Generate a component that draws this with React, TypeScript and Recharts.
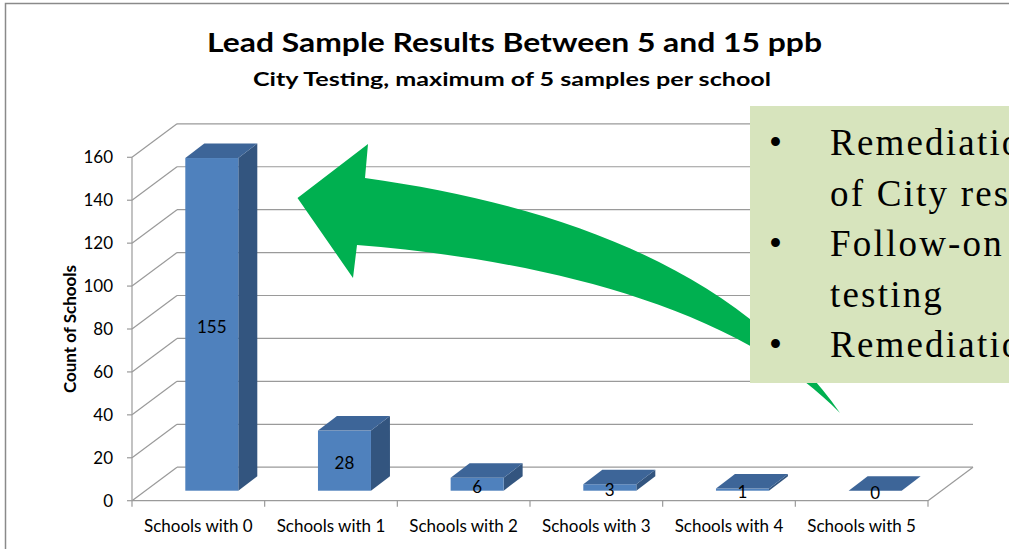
import React from 'react';
import { BarChart, Bar, XAxis, YAxis, CartesianGrid, LabelList } from 'recharts';

const categories = [
  'Schools with 0',
  'Schools with 1',
  'Schools with 2',
  'Schools with 3',
  'Schools with 4',
  'Schools with 5'
];
const counts = [155, 28, 6, 3, 1, 0];
const yTicks = [0, 20, 40, 60, 80, 100, 120, 140, 160];

const boxLines = [
  { bullet: true, text: 'Remediation' },
  { bullet: false, text: 'of City results' },
  { bullet: true, text: 'Follow-on' },
  { bullet: false, text: 'testing' },
  { bullet: true, text: 'Remediation' }
];

const W = 1009;
const H = 549;
const SANS = "Lato, 'Open Sans', sans-serif";
const GRID = '#9a9a9a';

// perspective offsets of the wall and of the bars
const DEPTH_X = 45;
const DEPTH_Y = -33.5;
const BAR_SHIFT_X = 13.5;
const BAR_SHIFT_Y = -10;
const BAR_DX = 19;
const BAR_DY = -14.5;

const FRONT = '#4f81bd';
const TOP = '#3d6598';
const SIDE = '#33557f';

const GridLine = (p: any) => {
  const { x1, x2, y1, index } = p;
  const bx = x1 + DEPTH_X;
  const by = y1 + DEPTH_Y;
  const isFloor = y1 > 490;
  return (
    <g key={'g' + index}>
      <line x1={x1} y1={y1} x2={bx} y2={by} stroke={GRID} strokeWidth={1.2} />
      <line x1={bx} y1={by} x2={x2 + DEPTH_X} y2={by} stroke={GRID} strokeWidth={1.2} />
      {isFloor && (
        <line x1={x2} y1={y1} x2={x2 + DEPTH_X} y2={by} stroke={GRID} strokeWidth={1.2} />
      )}
    </g>
  );
};

const Bar3D = (props: any) => {
  const { x, y, width, height } = props;
  const fx = x + BAR_SHIFT_X;
  const fy = y + BAR_SHIFT_Y;
  const h = Math.max(height, 0);
  const top = `${fx},${fy} ${fx + BAR_DX},${fy + BAR_DY} ${fx + width + BAR_DX},${fy + BAR_DY} ${fx + width},${fy}`;
  const side = `${fx + width},${fy} ${fx + width + BAR_DX},${fy + BAR_DY} ${fx + width + BAR_DX},${fy + h + BAR_DY} ${fx + width},${fy + h}`;
  return (
    <g>
      <polygon points={side} fill={SIDE} />
      <rect x={fx} y={fy} width={width} height={h} fill={FRONT} />
      <polygon points={top} fill={TOP} />
    </g>
  );
};

const BarValue = (props: any) => {
  const { x, y, width, height, value } = props;
  const cx = x + BAR_SHIFT_X + width / 2;
  const cy = y + BAR_SHIFT_Y + Math.max(height, 0) / 2 + 2;
  return (
    <text x={cx} y={cy} textAnchor="middle" dominantBaseline="central" fontFamily={SANS} fontSize={17} fill="#000">
      {value}
    </text>
  );
};

const XTick = (props: any) => {
  const { x, payload, index } = props;
  const half = payload && payload.offset ? payload.offset : 796 / 12;
  const axisY = 500.7;
  return (
    <g>
      {index === 0 && <line x1={x - half} y1={axisY} x2={x - half} y2={axisY + 6} stroke={GRID} strokeWidth={1.2} />}
      <line x1={x + half} y1={axisY} x2={x + half} y2={axisY + 6} stroke={GRID} strokeWidth={1.2} />
      <text x={x} y={axisY + 31} textAnchor="middle" fontFamily={SANS} fontSize={17} fill="#000">
        {payload.value}
      </text>
    </g>
  );
};

const arrowPath =
  'M 297.5 198 L 368 144 L 365 178 ' +
  'C 560 205, 740 270, 840 413 ' +
  'C 730 300, 520 258, 357 245 ' +
  'L 353 278 Z';

export default function App() {
  const data = categories.map((c, i) => ({ category: c, count: counts[i] }));
  return (
    <div style={{ position: 'absolute', left: 0, top: 0, width: W, height: H, overflow: 'hidden', background: '#fff' }}>
      <BarChart
        width={W}
        height={H}
        data={data}
        barCategoryGap="30%"
        margin={{ top: 157.3, right: 81, bottom: 8.3, left: 62 }}
      >
        <CartesianGrid vertical={false} horizontal={GridLine} />
        <XAxis
          dataKey="category"
          height={40}
          axisLine={{ stroke: GRID, strokeWidth: 1.2 }}
          tickLine={false}
          tick={<XTick />}
          interval={0}
        />
        <YAxis
          width={70}
          domain={[0, 160]}
          ticks={yTicks}
          interval={0}
          axisLine={{ stroke: GRID, strokeWidth: 1.2 }}
          tickLine={{ stroke: GRID, strokeWidth: 1.2 }}
          tickSize={5}
          tickMargin={14}
          tick={{ fill: '#000', fontSize: 17, fontFamily: SANS }}
        />
        <Bar dataKey="count" shape={<Bar3D />} isAnimationActive={false}>
          <LabelList dataKey="count" content={<BarValue />} />
        </Bar>
      </BarChart>

      <svg width={W} height={H} style={{ position: 'absolute', left: 0, top: 0, pointerEvents: 'none' }}>
        <rect x={5.5} y={3.5} width={1100} height={700} fill="none" stroke="#8a8a8a" strokeWidth={1.5} />
        <text x={514.5} y={52} textAnchor="middle" fontFamily={SANS} fontWeight={700} fontSize={26}
          textLength={615} lengthAdjust="spacingAndGlyphs" fill="#000">
          Lead Sample Results Between 5 and 15 ppb
        </text>
        <text x={512} y={86} textAnchor="middle" fontFamily={SANS} fontWeight={700} fontSize={19}
          textLength={518} lengthAdjust="spacingAndGlyphs" fill="#000">
          City Testing, maximum of 5 samples per school
        </text>
        <text x={0} y={0} transform="translate(76 329) rotate(-90)" textAnchor="middle"
          fontFamily={SANS} fontWeight={700} fontSize={17} fill="#000">
          Count of Schools
        </text>
        <path d={arrowPath} fill="#00b050" />
      </svg>

      <div
        style={{
          position: 'absolute',
          left: 750,
          top: 106,
          width: 320,
          height: 277,
          background: '#d7e4bd',
          fontFamily: "'Liberation Serif', 'DejaVu Serif', serif",
          fontSize: 37,
          color: '#000'
        }}
      >
        {boxLines.map((l, i) => (
          <div key={i} style={{ position: 'absolute', left: 0, top: 12 + i * 50.5, height: 50, lineHeight: '50px', whiteSpace: 'nowrap' }}>
            {l.bullet && <span style={{ position: 'absolute', left: 19 }}>•</span>}
            <span style={{ position: 'absolute', left: 80, letterSpacing: 2.2 }}>{l.text}</span>
          </div>
        ))}
      </div>
    </div>
  );
}
